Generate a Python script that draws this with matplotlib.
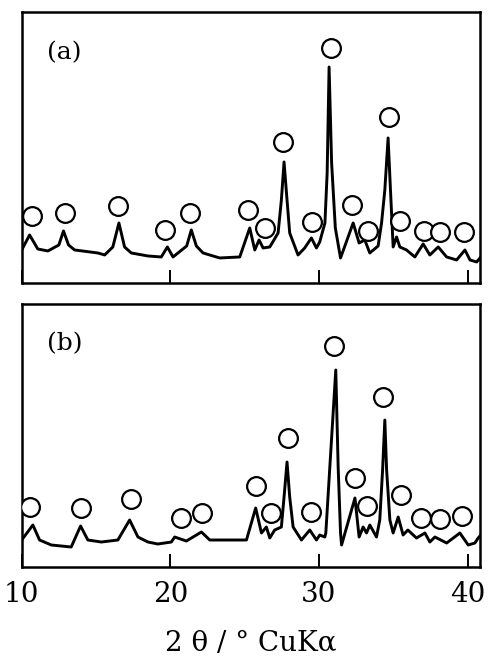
import matplotlib.pyplot as plt
import numpy as np

plt.rcParams['font.family'] = ['DejaVu Serif']

# pattern (a): 2theta / intensity (arb.)
two_theta_a = [10.00, 10.53, 11.08, 11.76, 12.50, 12.81, 13.15, 13.56, 15.12, 15.58,
               16.13, 16.54, 16.92, 17.37, 18.49, 19.39, 19.80, 20.18, 21.10, 21.41,
               21.75, 22.20, 23.32, 24.67, 25.34, 25.68, 25.97, 26.24, 26.69, 27.25,
               27.47, 27.65, 27.85, 28.03, 28.59, 29.04, 29.49, 29.83, 30.05, 30.40,
               30.55, 30.68, 30.85, 31.10, 31.45, 32.30, 32.70, 33.08, 33.42, 33.98,
               34.21, 34.43, 34.65, 34.81, 34.99, 35.22, 35.44, 35.89, 36.45, 37.01,
               37.46, 38.02, 38.59, 39.26, 39.82, 40.16, 40.61, 40.83]
counts_a = [33, 48, 34, 32, 38, 52, 38, 33, 30, 28,
            36, 60, 36, 30, 27, 26, 36, 26, 37, 53,
            37, 30, 25, 26, 55, 33, 43, 35, 36, 50,
            83, 121, 83, 50, 28, 35, 45, 35, 41, 60,
            110, 216, 120, 55, 25, 60, 40, 43, 30, 37,
            60, 93, 145, 93, 36, 46, 36, 33, 26, 39,
            28, 36, 26, 23, 33, 23, 21, 25]
peaks_a_x = [10.71, 12.93, 16.45, 19.66, 21.35, 25.23, 26.40, 27.58, 29.56, 30.79,
             32.23, 33.27, 34.70, 35.44, 37.08, 38.14, 39.77]
peaks_a_y = [67, 70, 77, 53, 70, 73, 55, 141, 61, 235,
             78, 52, 166, 62, 52, 51, 51]

# pattern (b)
two_theta_b = [10.00, 10.75, 11.20, 11.99, 13.33, 13.96, 14.45, 15.35, 16.47, 17.26,
               17.82, 18.49, 19.16, 20.07, 20.29, 21.08, 22.09, 22.65, 25.12, 25.74,
               26.13, 26.46, 26.69, 27.02, 27.47, 27.65, 27.85, 28.03, 28.26, 28.82,
               29.38, 29.83, 30.05, 30.39, 30.46, 30.73, 31.13, 31.29, 31.45, 31.52,
               32.42, 32.70, 32.97, 33.20, 33.42, 33.87, 34.09, 34.28, 34.43, 34.55,
               34.77, 34.99, 35.33, 35.66, 35.98, 36.56, 37.13, 37.46, 37.80, 38.59,
               39.48, 40.04, 40.49, 40.71, 40.83]
counts_b = [27, 42, 27, 22, 20, 41, 27, 25, 27, 47,
            30, 25, 23, 25, 30, 26, 35, 27, 27, 59,
            34, 40, 29, 37, 40, 70, 105, 70, 40, 27,
            37, 27, 32, 30, 34, 100, 197, 100, 34, 22,
            69, 30, 40, 34, 42, 30, 47, 97, 147, 97,
            47, 34, 50, 32, 37, 29, 34, 25, 30, 24,
            34, 22, 24, 29, 31]
peaks_b_x = [10.59, 13.96, 17.33, 20.74, 22.13, 25.74, 26.80, 27.92, 29.43, 31.02,
             32.41, 33.20, 34.32, 35.51, 36.86, 38.14, 39.60]
peaks_b_y = [60, 59, 68, 49, 54, 81, 54, 129, 55, 221,
             89, 61, 170, 72, 49, 48, 51]

fig = plt.figure(figsize=(4.88, 6.61), dpi=100)
ax_a = fig.add_axes([0.0445, 0.5719, 0.939, 0.4100])
ax_b = fig.add_axes([0.0445, 0.1422, 0.939, 0.3979])

panels = [(ax_a, two_theta_a, counts_a, peaks_a_x, peaks_a_y, "(a)", 271),
          (ax_b, two_theta_b, counts_b, peaks_b_x, peaks_b_y, "(b)", 263)]
for ax, x, y, px, py, tag, top in panels:
    ax.plot(x, y, color="black", lw=2.1, solid_joinstyle="round", zorder=2)
    ax.plot(px, py, "o", ms=13.5, mfc="white", mec="black", mew=1.6, zorder=3)
    ax.set_xlim(10, 40.83)
    ax.set_ylim(0, top)
    ax.set_yticks([])
    ax.set_xticks([10, 20, 30, 40])
    ax.tick_params(axis="x", direction="in", length=9.5, width=1.4, labelsize=20, pad=10)
    for s in ax.spines.values():
        s.set_linewidth(1.8)
    ax.text(0.055, 0.85, tag, transform=ax.transAxes, fontsize=18, va="center", ha="left")

ax_a.tick_params(axis="x", labelbottom=False)
ax_b.set_xlabel("2 θ / ° CuKα", fontsize=20, labelpad=16)

plt.savefig("out.png", dpi=100)
